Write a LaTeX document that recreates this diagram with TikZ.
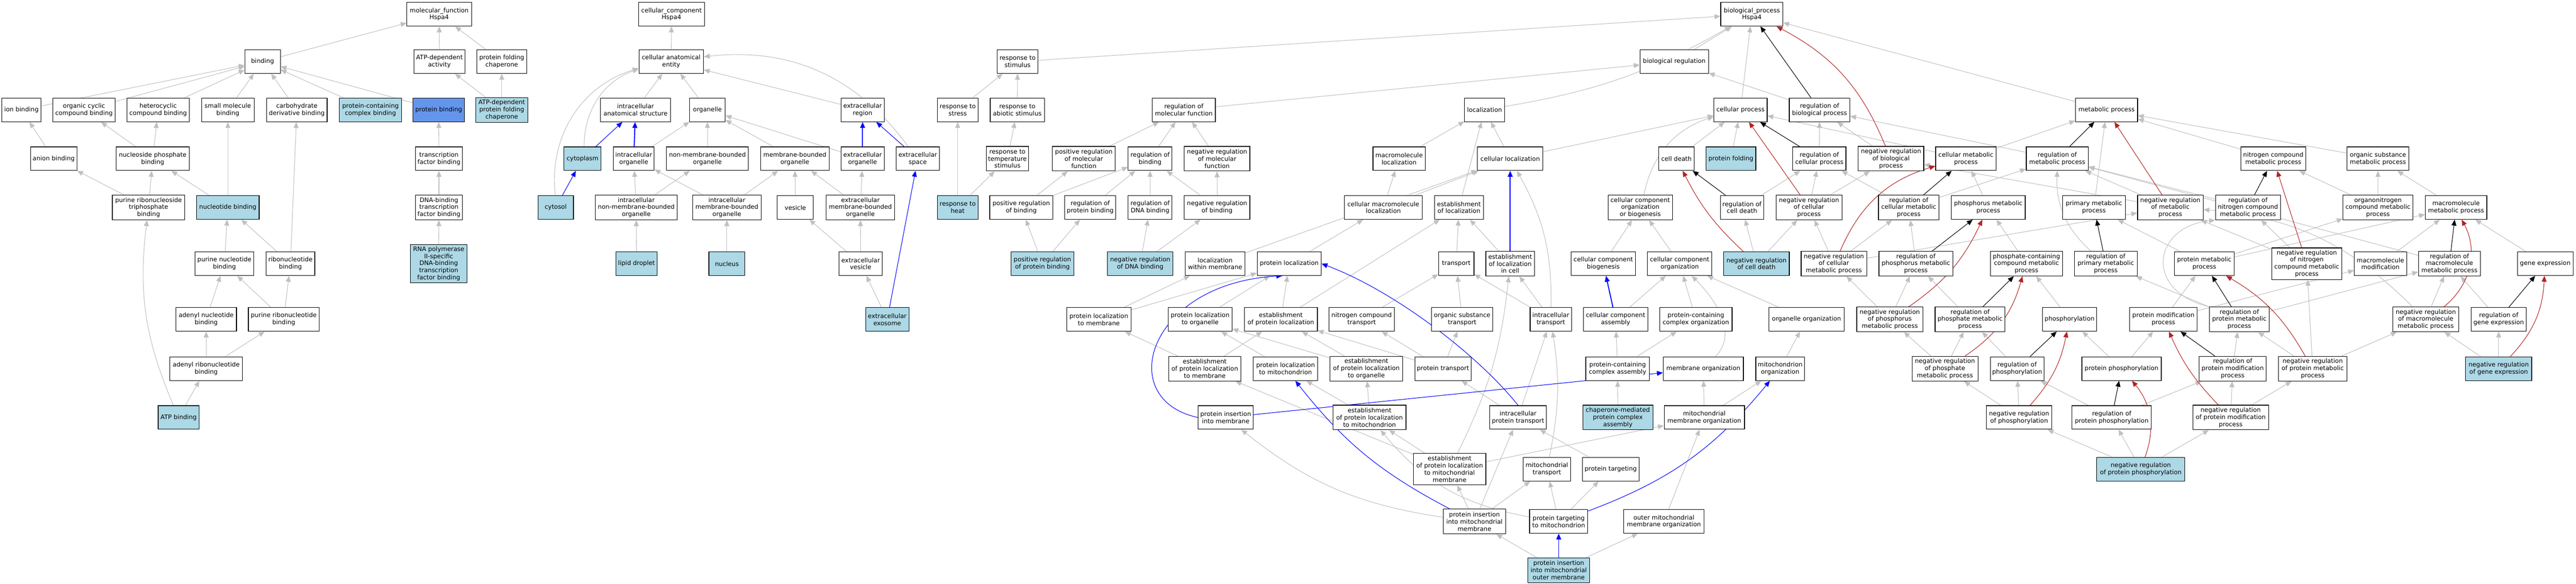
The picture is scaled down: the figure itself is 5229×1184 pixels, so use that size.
\documentclass[tikz,border=0pt]{standalone}
\usepackage{fontspec}
\setmainfont{DejaVu Sans}
\usetikzlibrary{arrows.meta,backgrounds}
\definecolor{lb}{RGB}{173,216,230}
\definecolor{pb}{RGB}{100,149,237}
\definecolor{eg}{RGB}{192,192,192}
\definecolor{er}{RGB}{178,34,34}
\definecolor{eb}{RGB}{0,0,255}
\newcommand\gn[6]{%
  \pgfmathsetmacro\gnw{#3-#2}%
  \pgfmathsetmacro\gnx{(#3+#2)/2}%
  \node[box,#6,minimum width=\gnw pt] (#1) at (\gnx,#4) {#5};}
\tikzset{
  box/.style={draw=black, line width=1.2pt, fill=white, align=center, inner xsep=1pt, inner ysep=1pt,
    minimum height=48pt, font=\fontsize{12.5}{14.5}\selectfont},
  h3/.style={minimum height=50pt}, h4/.style={minimum height=64pt}, h5/.style={minimum height=78pt},
  lbx/.style={fill=lb}, pbx/.style={fill=pb},
  ga/.style={draw=eg, line width=1.1pt, -{Triangle[length=12pt,width=10pt]}},
  ba/.style={ga, draw=eb},
  bat/.style={ga, draw=eb, line width=2pt},
  ka/.style={ga, draw=black},
  ra/.style={ga, draw=er},
}
\begin{document}
\begin{tikzpicture}[x=1pt,y=-1pt]
\useasboundingbox (0,0) rectangle (5229,1184);
% ---------------- molecular function
\gn{mf}{826}{957}{29}{molecular\_function\\Hspa4}{}
\gn{bind}{497}{569}{125}{binding}{}
\gn{atpact}{840}{944}{125}{ATP-dependent\\activity}{}
\gn{pfc}{968}{1069}{125}{protein folding\\chaperone}{}
\gn{ionb}{4}{83}{223}{ion binding}{}
\gn{occb}{107}{234}{223}{organic cyclic\\compound binding}{}
\gn{hetb}{258}{384}{223}{heterocyclic\\compound binding}{}
\gn{smb}{409}{516}{223}{small molecule\\binding}{}
\gn{cdb}{541}{664}{223}{carbohydrate\\derivative binding}{}
\gn{pccb}{689}{815}{223}{protein-containing\\complex binding}{lbx}
\gn{protb}{838}{943}{223}{protein binding}{pbx}
\gn{atppfc}{966}{1071}{223}{ATP-dependent\\protein folding\\chaperone}{lbx,h3}
\gn{anb}{62}{156}{322}{anion binding}{}
\gn{npb}{236}{384}{322}{nucleoside phosphate\\binding}{}
\gn{tfb}{843}{939}{322}{transcription\\factor binding}{}
\gn{prtb}{228}{375}{421}{purine ribonucleoside\\triphosphate\\binding}{h3}
\gn{ntb}{399}{526}{421}{nucleotide binding}{lbx}
\gn{dtfb}{843}{939}{421}{DNA-binding\\transcription\\factor binding}{h3}
\gn{pnb}{396}{515}{535}{purine nucleotide\\binding}{}
\gn{rnb}{540}{639}{535}{ribonucleotide\\binding}{}
\gn{rnap}{833}{948}{535}{RNA polymerase\\II-specific\\DNA-binding\\transcription\\factor binding}{lbx,h5}
\gn{anucb}{357}{480}{648}{adenyl nucleotide\\binding}{}
\gn{prnb}{504}{648}{648}{purine ribonucleotide\\binding}{}
\gn{arnb}{345}{492}{748}{adenyl ribonucleotide\\binding}{}
\gn{atpb}{321}{404}{847}{ATP binding}{lbx}
% ---------------- cellular component
\gn{cc}{1296}{1430}{29}{cellular\_component\\Hspa4}{}
\gn{cae}{1297}{1428}{125}{cellular anatomical\\entity}{}
\gn{ias}{1219}{1361}{223}{intracellular\\anatomical structure}{}
\gn{org}{1400}{1472}{223}{organelle}{}
\gn{ecr}{1707}{1795}{223}{extracellular\\region}{}
\gn{cyto}{1145}{1220}{322}{cytoplasm}{lbx}
\gn{io}{1245}{1328}{322}{intracellular\\organelle}{}
\gn{nmbo}{1353}{1519}{322}{non-membrane-bounded\\organelle}{}
\gn{mbo}{1544}{1683}{322}{membrane-bounded\\organelle}{}
\gn{eco}{1707}{1795}{322}{extracellular\\organelle}{}
\gn{ecs}{1819}{1907}{322}{extracellular\\space}{}
\gn{cytosol}{1092}{1164}{421}{cytosol}{lbx}
\gn{inmbo}{1208}{1375}{421}{intracellular\\non-membrane-bounded\\organelle}{h3}
\gn{imbo}{1406}{1545}{421}{intracellular\\membrane-bounded\\organelle}{h3}
\gn{ves}{1578}{1651}{421}{vesicle}{}
\gn{embo}{1677}{1816}{421}{extracellular\\membrane-bounded\\organelle}{h3}
\gn{lipid}{1250}{1334}{535}{lipid droplet}{lbx}
\gn{nuc}{1439}{1512}{535}{nucleus}{lbx}
\gn{ecv}{1703}{1791}{535}{extracellular\\vesicle}{}
\gn{exo}{1757}{1845}{648}{extracellular\\exosome}{lbx}
% ---------------- biological process
\gn{bp}{3493}{3619}{29}{biological\_process\\Hspa4}{}
\gn{rstim}{2024}{2107}{125}{response to\\stimulus}{}
\gn{breg}{3329}{3468}{125}{biological regulation}{}
\gn{rstress}{1903}{1985}{223}{response to\\stress}{}
\gn{rabio}{2010}{2120}{223}{response to\\abiotic stimulus}{}
\gn{rmf}{2339}{2467}{223}{regulation of\\molecular function}{}
\gn{loc}{2973}{3054}{223}{localization}{}
\gn{cp}{3479}{3587}{223}{cellular process}{}
\gn{rbp}{3632}{3755}{223}{regulation of\\biological process}{}
\gn{mp}{4213}{4339}{223}{metabolic process}{}
\gn{rtemp}{2002}{2088}{322}{response to\\temperature\\stimulus}{h3}
\gn{prmf}{2136}{2264}{322}{positive regulation\\of molecular\\function}{h3}
\gn{rb}{2290}{2379}{322}{regulation of\\binding}{}
\gn{nrmf}{2404}{2537}{322}{negative regulation\\of molecular\\function}{h3}
\gn{mloc}{2787}{2893}{322}{macromolecule\\localization}{}
\gn{cloc}{2999}{3132}{322}{cellular localization}{}
\gn{cdeath}{3367}{3439}{322}{cell death}{}
\gn{pfold}{3463}{3564}{322}{protein folding}{lbx}
\gn{rcp}{3639}{3747}{322}{regulation of\\cellular process}{}
\gn{nrbp}{3772}{3905}{322}{negative regulation\\of biological\\process}{h3}
\gn{cmp}{3929}{4052}{322}{cellular metabolic\\process}{}
\gn{rmp}{4113}{4239}{322}{regulation of\\metabolic process}{}
\gn{ncmp}{4549}{4680}{322}{nitrogen compound\\metabolic process}{}
\gn{osmp}{4764}{4890}{322}{organic substance\\metabolic process}{}
\gn{rheat}{1903}{1985}{421}{response to\\heat}{lbx}
\gn{prb}{2009}{2137}{421}{positive regulation\\of binding}{}
\gn{rpb}{2161}{2265}{421}{regulation of\\protein binding}{}
\gn{rdna}{2290}{2379}{421}{regulation of\\DNA binding}{}
\gn{nrb}{2404}{2537}{421}{negative regulation\\of binding}{}
\gn{cmloc}{2729}{2887}{421}{cellular macromolecule\\localization}{}
\gn{eloc}{2912}{3011}{421}{establishment\\of localization}{}
\gn{ccob}{3264}{3395}{421}{cellular component\\organization\\or biogenesis}{h3}
\gn{rcd}{3492}{3580}{421}{regulation of\\cell death}{}
\gn{nrcp}{3605}{3739}{421}{negative regulation\\of cellular\\process}{h3}
\gn{rcmp}{3813}{3936}{421}{regulation of\\cellular metabolic\\process}{h3}
\gn{phmp}{3961}{4111}{421}{phosphorus metabolic\\process}{}
\gn{pmp}{4187}{4314}{421}{primary metabolic\\process}{}
\gn{nrmp}{4339}{4472}{421}{negative regulation\\of metabolic\\process}{h3}
\gn{rncmp}{4497}{4629}{421}{regulation of\\nitrogen compound\\metabolic process}{h3}
\gn{onmp}{4756}{4898}{421}{organonitrogen\\compound metabolic\\process}{h3}
\gn{mmp}{4923}{5048}{421}{macromolecule\\metabolic process}{}
\gn{prpb}{2052}{2180}{535}{positive regulation\\of protein binding}{lbx}
\gn{nrdna}{2248}{2381}{535}{negative regulation\\of DNA binding}{lbx}
\gn{locwm}{2406}{2527}{535}{localization\\within membrane}{}
\gn{ploc}{2552}{2682}{535}{protein localization}{}
\gn{transp}{2920}{2992}{535}{transport}{}
\gn{elocc}{3016}{3115}{535}{establishment\\of localization\\in cell}{h3}
\gn{ccbio}{3189}{3320}{535}{cellular component\\biogenesis}{}
\gn{ccorg}{3344}{3475}{535}{cellular component\\organization}{}
\gn{nrcd}{3499}{3632}{535}{negative regulation\\of cell death}{lbx}
\gn{nrcmp}{3656}{3789}{535}{negative regulation\\of cellular\\metabolic process}{h3}
\gn{rphmp}{3814}{3964}{535}{regulation of\\phosphorus metabolic\\process}{h3}
\gn{pcmp}{4040}{4187}{535}{phosphate-containing\\compound metabolic\\process}{h3}
\gn{rpmp}{4211}{4338}{535}{regulation of\\primary metabolic\\process}{h3}
\gn{protmp}{4414}{4535}{535}{protein metabolic\\process}{}
\gn{nrncmp}{4611}{4754}{535}{negative regulation\\of nitrogen\\compound metabolic\\process}{h4}
\gn{mmod}{4779}{4885}{535}{macromolecule\\modification}{}
\gn{rmmp}{4909}{5035}{535}{regulation of\\macromolecule\\metabolic process}{h3}
\gn{gexp}{5110}{5223}{535}{gene expression}{}
\gn{plocm}{2165}{2296}{648}{protein localization\\to membrane}{}
\gn{ploco}{2371}{2501}{648}{protein localization\\to organelle}{}
\gn{eploc}{2526}{2674}{648}{establishment\\of protein localization}{}
\gn{nct}{2698}{2830}{648}{nitrogen compound\\transport}{}
\gn{ost}{2906}{3030}{648}{organic substance\\transport}{}
\gn{itr}{3106}{3190}{648}{intracellular\\transport}{}
\gn{cca}{3214}{3345}{648}{cellular component\\assembly}{}
\gn{pcco}{3369}{3516}{648}{protein-containing\\complex organization}{}
\gn{orgorg}{3591}{3743}{648}{organelle organization}{}
\gn{nrphmp}{3769}{3903}{648}{negative regulation\\of phosphorus\\metabolic process}{h3}
\gn{rphosmp}{3928}{4070}{648}{regulation of\\phosphate metabolic\\process}{h3}
\gn{phos}{4146}{4256}{648}{phosphorylation}{}
\gn{pmod}{4323}{4460}{648}{protein modification\\process}{}
\gn{rprotmp}{4485}{4606}{648}{regulation of\\protein metabolic\\process}{h3}
\gn{nrmmp}{4857}{4991}{648}{negative regulation\\of macromolecule\\metabolic process}{h3}
\gn{rgexp}{5016}{5128}{648}{regulation of\\gene expression}{}
\gn{eplocm}{2372}{2519}{748}{establishment\\of protein localization\\to membrane}{h3}
\gn{plocmito}{2544}{2675}{748}{protein localization\\to mitochondrion}{}
\gn{eploco}{2700}{2847}{748}{establishment\\of protein localization\\to organelle}{h3}
\gn{ptr}{2872}{2986}{748}{protein transport}{}
\gn{pcca}{3219}{3348}{748}{protein-containing\\complex assembly}{}
\gn{memorg}{3376}{3539}{748}{membrane organization}{}
\gn{mitoorg}{3564}{3663}{748}{mitochondrion\\organization}{}
\gn{nrphosmp}{3881}{4015}{748}{negative regulation\\of phosphate\\metabolic process}{h3}
\gn{rphos}{4040}{4149}{748}{regulation of\\phosphorylation}{}
\gn{pphos}{4226}{4387}{748}{protein phosphorylation}{}
\gn{rpmod}{4464}{4600}{748}{regulation of\\protein modification\\process}{h3}
\gn{nrprotmp}{4625}{4764}{748}{negative regulation\\of protein metabolic\\process}{h3}
\gn{nrgexp}{5005}{5139}{748}{negative regulation\\of gene expression}{lbx}
\gn{pim}{2432}{2544}{847}{protein insertion\\into membrane}{}
\gn{eplocmito}{2706}{2854}{847}{establishment\\of protein localization\\to mitochondrion}{h3}
\gn{iptr}{3024}{3139}{847}{intracellular\\protein transport}{}
\gn{chap}{3213}{3355}{847}{chaperone-mediated\\protein complex\\assembly}{lbx,h3}
\gn{mmorg}{3378}{3541}{847}{mitochondrial\\membrane organization}{}
\gn{nrphos}{4032}{4165}{847}{negative regulation\\of phosphorylation}{}
\gn{rpphos}{4206}{4367}{847}{regulation of\\protein phosphorylation}{}
\gn{nrpmod}{4451}{4605}{847}{negative regulation\\of protein modification\\process}{h3}
\gn{eplocmm}{2869}{3016}{952}{establishment\\of protein localization\\to mitochondrial\\membrane}{h4}
\gn{mitotr}{3092}{3188}{952}{mitochondrial\\transport}{}
\gn{ptarg}{3212}{3327}{952}{protein targeting}{}
\gn{nrpphos}{4256}{4435}{952}{negative regulation\\of protein phosphorylation}{lbx}
\gn{pimm}{2930}{3056}{1058}{protein insertion\\into mitochondrial\\membrane}{h3}
\gn{ptm}{3105}{3223}{1058}{protein targeting\\to mitochondrion}{}
\gn{omm}{3296}{3459}{1058}{outer mitochondrial\\membrane organization}{}
\gn{pimom}{3101}{3227}{1157}{protein insertion\\into mitochondrial\\outer membrane}{lbx,h3}
% ---------------- edges
\begin{scope}[on background layer]
\fill[white] (0,0) rectangle (5229,1184);
\foreach \a/\b in {bind/mf, atpact/mf, pfc/mf, ionb/bind, occb/bind, hetb/bind, smb/bind, cdb/bind,
  pccb/bind, protb/bind, anb/ionb, npb/occb, npb/hetb, prtb/anb, prtb/npb, ntb/npb, ntb/smb, pnb/ntb,
  rnb/ntb, rnb/cdb, anucb/pnb, prnb/pnb, prnb/rnb, arnb/anucb, arnb/prnb, atpb/arnb, atppfc/atpact,
  atppfc/pfc, tfb/protb, dtfb/tfb, rnap/dtfb,
  cae/cc, ias/cae, org/cae, ecr/cae, io/org, nmbo/org, mbo/org, eco/org, inmbo/io, inmbo/nmbo, imbo/io,
  imbo/mbo, ves/mbo, embo/mbo, embo/eco, lipid/inmbo, nuc/imbo, ecv/ves, ecv/embo, exo/ecv,
  rstim/bp, breg/bp, cp/bp, mp/bp, rbp/breg, rmf/breg, rstress/rstim, rabio/rstim, rtemp/rabio,
  rheat/rstress, rheat/rtemp, prmf/rmf, rb/rmf, nrmf/rmf, prb/prmf, prb/rb, rpb/rb, rdna/rb, nrb/rb,
  nrb/nrmf, prpb/prb, prpb/rpb, nrdna/rdna, nrdna/nrb, mloc/loc, eloc/loc, cloc/loc, cmloc/mloc,
  cmloc/cloc, locwm/cloc, ploc/cmloc, transp/eloc, elocc/eloc, plocm/locwm, plocm/ploc, ploco/ploc,
  eploc/ploc, eploc/eloc, plocmito/ploco, eplocm/plocm, eplocm/eploc, eploco/ploco, eploco/eploc,
  ptr/nct, ptr/eploc, ptr/ost, nct/transp, ost/transp, itr/elocc, itr/transp, iptr/ptr, iptr/itr,
  eplocmito/plocmito, eplocmito/eploco, eplocmm/eplocmito, eplocmm/eplocm, eplocmm/mmorg, ptarg/iptr,
  ptm/ptarg, ptm/mitotr, pimm/eplocmm, pimm/iptr, pimm/mitotr, pimom/pimm, pimom/omm, omm/mmorg,
  mmorg/memorg, mmorg/mitoorg, mitoorg/orgorg, orgorg/ccorg, pcco/ccorg, cca/ccorg, pcca/cca,
  pcca/pcco, chap/pcca, ccbio/ccob, ccorg/ccob, cloc/cp, cdeath/cp, pfold/cp, cmp/cp, rcd/rcp,
  nrcd/rcd, nrcd/nrcp, rcp/rbp, nrbp/rbp, nrcp/rcp, nrcp/nrbp, rcmp/rcp, rcmp/rmp, nrcmp/rcmp,
  nrcmp/nrcp, nrcmp/nrmp, rphmp/rcmp, nrphmp/rphmp, nrphmp/nrcmp, rphosmp/rphmp, nrphosmp/rphosmp,
  nrphosmp/nrphmp, phmp/cmp, pcmp/phmp, phos/pcmp, rphos/rphosmp, nrphos/rphos, nrphos/nrphosmp,
  pphos/phos, pphos/pmod, rpphos/rphos, rpphos/rpmod, nrpphos/nrphos, nrpphos/rpphos, nrpphos/nrpmod,
  pmod/protmp, pmod/mmod, rprotmp/rpmp, rprotmp/rmmp, nrprotmp/rprotmp, nrprotmp/nrncmp,
  nrprotmp/nrmmp, rpmod/rprotmp, nrpmod/rpmod, nrpmod/nrprotmp, protmp/pmp, protmp/onmp, protmp/mmp,
  pmp/mp, cmp/mp, rmp/rbp, nrmp/rmp, nrmp/nrbp, rncmp/rmp, nrncmp/rncmp, nrncmp/nrmp, rmmp/rmp,
  nrmmp/rmmp, mmp/osmp, onmp/osmp, onmp/ncmp, osmp/mp, ncmp/mp, mmod/mmp, gexp/mmp, rgexp/rmmp,
  nrgexp/rgexp, nrgexp/nrmmp}
  \draw[ga] (\a) -- (\b);
% gray curves
\draw[ga] (atpb) to[bend left=15] (prtb);
\draw[ga] (cyto) to[bend left=35] (cae);
\draw[ga] (cytosol) to[bend left=40] (cae);
\draw[ga] (ecs) to[bend right=30] (cae);
\draw[ga] (itr) to[bend right=15] (cloc);
\draw[ga] (mitotr) to[bend right=10] (itr);
\draw[ga] (ptm) to[bend left=20] (eplocmito);
\draw[ga] (pimm) to[bend left=15] (pim);
\draw[ga] (eplocmm) to[bend right=10] (elocc);
\draw[ga] (rpmp) to[bend left=25] (rmp);
\draw[ga] (rprotmp.north west) .. controls (4350,590) and (4370,460) .. (rncmp.south west);
\draw[ga] (nrmmp) to[bend right=20] (nrmp);
\draw[ga] (loc) to[bend right=10] (bp);
\draw[ga] (ccob) to[bend left=30] (cp);
\draw[ga] (memorg) to[out=45,in=-45] (ccorg);
% blue
\foreach \a/\b in {cyto/ias, cytosol/cyto, ecs/ecr, exo/ecs, pim/memorg}
  \draw[ba] (\a) -- (\b);
\foreach \a/\b in {io/ias, eco/ecr, elocc/cloc, cca/ccbio, pimom/ptm}
  \draw[bat] (\a) -- (\b);
\draw[ba] (pim.west) .. controls (2260,810) and (2330,575) .. (ploc.240);
\draw[ba] (iptr.north) .. controls (3000,720) and (2830,590) .. (ploc.east);
\draw[ba] (pimm) to[bend left=12] (plocmito);
\draw[ba] (ptm) to[bend right=15] (mitoorg);
% black
\foreach \a/\b in {rbp/bp, rcp/cp, rcd/cdeath, rcmp/cmp, rphmp/phmp, rphosmp/pcmp, rphos/phos,
  rpphos/pphos, rmp/mp, rpmp/pmp, rncmp/ncmp, rprotmp/protmp, rpmod/pmod, rmmp/mmp, rgexp/gexp}
  \draw[ka] (\a) -- (\b);
% red
\foreach \a/\b in {nrcp/cp, nrmp/mp, nrncmp/ncmp}
  \draw[ra] (\a) -- (\b);
\draw[ra] (nrbp) to[bend right=20] (bp);
\draw[ra] (nrcd) to[bend left=10] (cdeath);
\draw[ra] (nrcmp) to[bend left=25] (cmp);
\draw[ra] (nrphmp) to[bend right=15] (phmp);
\draw[ra] (nrphosmp) to[bend right=20] (pcmp);
\draw[ra] (nrphos) to[bend right=15] (phos);
\draw[ra] (nrpphos) to[bend right=30] (pphos);
\draw[ra] (nrprotmp) to[bend right=15] (protmp);
\draw[ra] (nrpmod) to[bend left=10] (pmod);
\draw[ra] (nrmmp) to[bend right=40] (mmp);
\draw[ra] (nrgexp) to[bend right=20] (gexp);
\end{scope}
\end{tikzpicture}
\end{document}
